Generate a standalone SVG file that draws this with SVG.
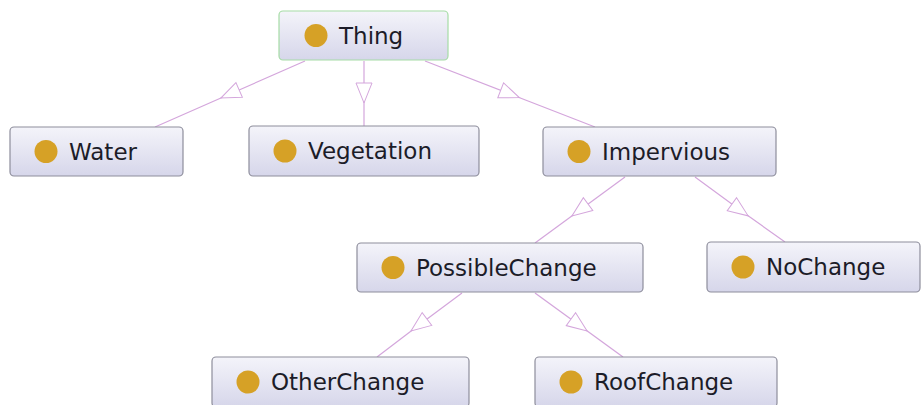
<svg xmlns="http://www.w3.org/2000/svg" width="921" height="405" viewBox="0 0 921 405">
  <defs>
    <linearGradient id="nodeFill" x1="0" y1="0" x2="0" y2="1">
      <stop offset="0" stop-color="#f4f4fa"/>
      <stop offset="1" stop-color="#d6d6ea"/>
    </linearGradient>
    <marker id="hollowTri" markerUnits="userSpaceOnUse" markerWidth="24" markerHeight="20" viewBox="-12 -10 24 20" refX="0" refY="0" orient="auto">
      <path d="M-10,-8 L10,0 L-10,8 Z" fill="#ffffff" stroke="#d4a6dc" stroke-width="1"/>
    </marker>
    <style>
      .node rect { fill: url(#nodeFill); stroke: #8e8e9c; stroke-width: 1.2; }
      .node.root rect { stroke: #a6dca6; }
      .node circle { fill: #d6a126; }
      .node text { font-family: "DejaVu Sans", sans-serif; font-size: 23px; fill: #1c1c28; }
      .edge { fill: none; stroke: #d4a6dc; stroke-width: 1.2; marker-mid: url(#hollowTri); }
    </style>
  </defs>

  <g id="connectors">
    <path class="edge" d="M305,61 L230,94 L155,127"/>
    <path class="edge" d="M364,61 L364,93 L364,126"/>
    <path class="edge" d="M425,61 L510,94 L595,127"/>
    <path class="edge" d="M625,177 L580,210 L535,243"/>
    <path class="edge" d="M695,177 L740,210 L785,242"/>
    <path class="edge" d="M462,293 L419,325 L377,357"/>
    <path class="edge" d="M535,293 L579,325 L623,357"/>
  </g>

  <g id="node-thing" class="node root">
    <rect x="279" y="11" width="169" height="49" rx="4"/>
    <circle cx="316" cy="35.5" r="11.5"/>
    <text x="339" y="43.5">Thing</text>
  </g>
  <g id="node-water" class="node">
    <rect x="10" y="127" width="173" height="49" rx="4"/>
    <circle cx="46" cy="151.5" r="11.5"/>
    <text x="69" y="159.5">Water</text>
  </g>
  <g id="node-vegetation" class="node">
    <rect x="249" y="126" width="230" height="50" rx="4"/>
    <circle cx="285" cy="151" r="11.5"/>
    <text x="308" y="159">Vegetation</text>
  </g>
  <g id="node-impervious" class="node">
    <rect x="543" y="127" width="233" height="49" rx="4"/>
    <circle cx="579" cy="151.5" r="11.5"/>
    <text x="602" y="159.5">Impervious</text>
  </g>
  <g id="node-possiblechange" class="node">
    <rect x="357" y="243" width="286" height="49" rx="4"/>
    <circle cx="393" cy="267.5" r="11.5"/>
    <text x="416" y="275.5">PossibleChange</text>
  </g>
  <g id="node-nochange" class="node">
    <rect x="707" y="242" width="213" height="50" rx="4"/>
    <circle cx="743" cy="267" r="11.5"/>
    <text x="766" y="275">NoChange</text>
  </g>
  <g id="node-otherchange" class="node">
    <rect x="212" y="357" width="257" height="50" rx="4"/>
    <circle cx="248" cy="382" r="11.5"/>
    <text x="271" y="390">OtherChange</text>
  </g>
  <g id="node-roofchange" class="node">
    <rect x="535" y="357" width="242" height="50" rx="4"/>
    <circle cx="571" cy="382" r="11.5"/>
    <text x="594" y="390">RoofChange</text>
  </g>
</svg>
